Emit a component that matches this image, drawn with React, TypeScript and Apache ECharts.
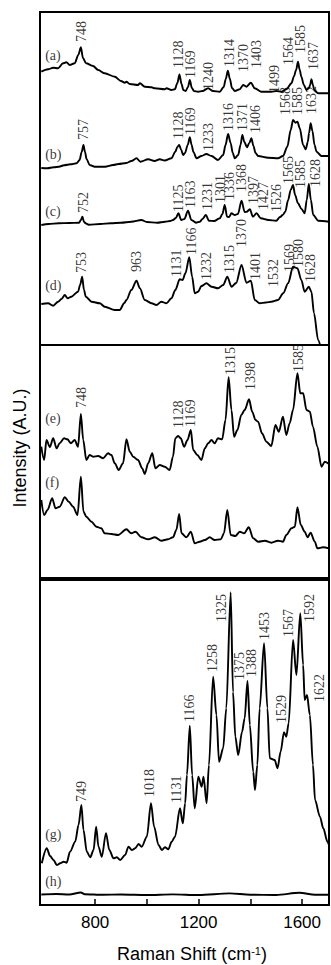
import React, { useEffect, useRef } from 'react';
import * as echarts from 'echarts';

// Raman shift axis range (cm-1)
const X_MIN = 587;
const X_MAX = 1704;
const TICK_VALUES = [800, 1000, 1200, 1400, 1600];
const TICK_LABELS = [800, 1200, 1600];

// Panel heights in arbitrary intensity units
const P1_MAX = 333;
const P2_MAX = 233;
const P3_MAX = 325;

// ---- Panel 1 spectra: [Raman shift, intensity] ----
const specA = [
  [592, 273.3], [618, 275.7], [638, 277.3], [657, 276.7], [676, 281.7], [689, 282.7], [702, 280], [721, 281.7],
  [735, 290], [745, 297.7], [753, 287], [765, 281.7], [792, 279], [812, 275], [837, 271.7], [876, 268.3],
  [900, 264], [915, 262.3], [921, 263.3], [934, 261], [966, 260], [973, 261.7], [992, 258.3], [1018, 257.7],
  [1031, 256.7], [1069, 255.7], [1076, 256.7], [1095, 255], [1108, 255.7], [1118, 262], [1126, 270.5],
  [1134, 261], [1141, 255], [1150, 254], [1159, 258], [1166, 265], [1174, 257], [1182, 254], [1198, 253.3],
  [1215, 254], [1237, 256.7], [1256, 254], [1282, 253.3], [1297, 258], [1305, 266], [1313, 274.3],
  [1321, 266], [1329, 257], [1340, 254], [1359, 255.7], [1372, 260], [1385, 258.3], [1402, 262.3],
  [1417, 256.7], [1443, 253.3], [1481, 253.3], [1501, 254], [1520, 253.3], [1539, 255.7], [1559, 261.7],
  [1568, 268.3], [1577, 275], [1584, 283.3], [1591, 275], [1597, 268.3], [1607, 260], [1617, 255],
  [1626, 256.7], [1631, 260], [1636, 265.7], [1642, 260], [1647, 255], [1662, 251.7], [1704, 251.7],
];

const specB = [
  [592, 177], [615, 176.7], [640, 177.7], [660, 178.3], [680, 179.7], [705, 180.7], [728, 181.7], [740, 185],
  [748, 193], [755, 200], [761, 193], [767, 186], [779, 180], [799, 178.3], [838, 178.3], [870, 180],
  [890, 181], [921, 182], [940, 184], [960, 186.7], [975, 183.3], [1005, 185.7], [1030, 184], [1050, 185.7],
  [1069, 184.5], [1095, 186.7], [1110, 193.3], [1118, 198], [1125, 200], [1133, 195], [1140, 190],
  [1147, 191.7], [1158, 200], [1166, 207.7], [1173, 200], [1180, 193], [1192, 186.7], [1211, 189],
  [1230, 191], [1250, 189], [1275, 185], [1295, 190], [1304, 200], [1314, 211], [1324, 201.7],
  [1332, 192], [1340, 186.7], [1353, 190], [1362, 200], [1369, 210], [1377, 203], [1387, 197.7],
  [1396, 202], [1404, 206.7], [1412, 199], [1420, 192], [1430, 189], [1469, 187.3], [1507, 186.7],
  [1526, 189], [1543, 198.3], [1556, 215], [1565, 225], [1574, 222.3], [1582, 223.3], [1591, 216.7],
  [1604, 200], [1614, 195.7], [1622, 203], [1627, 212], [1633, 221.7], [1640, 214], [1648, 200],
  [1656, 193.3], [1675, 189], [1704, 189],
];

const specC = [
  [592, 120], [620, 121], [660, 121.7], [700, 122], [738, 122.3], [745, 125], [751, 128.3], [757, 123],
  [765, 121.5], [775, 120.3], [820, 121], [860, 121.7], [900, 122.3], [940, 123.3], [979, 125], [1000, 123],
  [1040, 122.3], [1070, 123.3], [1090, 124], [1101, 125], [1112, 127], [1122, 131.7], [1133, 125],
  [1145, 126], [1159, 134.3], [1172, 125], [1190, 122.3], [1205, 123.3], [1215, 126], [1228, 130],
  [1240, 124.3], [1260, 124], [1282, 126.7], [1292, 131], [1301, 140], [1310, 128.3], [1318, 128],
  [1327, 131.7], [1340, 130], [1352, 131], [1366, 144.3], [1378, 133], [1386, 133.3], [1398, 135.7],
  [1410, 128.3], [1424, 131.7], [1440, 126.7], [1470, 125], [1500, 124.3], [1515, 128], [1525, 130],
  [1535, 133.3], [1546, 145], [1556, 155], [1565, 160], [1573, 150], [1584, 141.7], [1598, 136],
  [1610, 131.7], [1618, 145], [1626, 161], [1634, 145], [1643, 130], [1662, 124.3], [1704, 123.3],
];

const specD = [
  [592, 41], [618, 41.7], [638, 39.3], [657, 43.3], [670, 46], [683, 50], [694, 46.7], [708, 48.3],
  [734, 53.3], [742, 60], [750, 68.3], [757, 55], [764, 48.3], [786, 43.3], [818, 41.7], [837, 38.3],
  [876, 35], [895, 35], [913, 42], [921, 45], [940, 55], [960, 64.3], [973, 56.7], [992, 45], [1018, 41.7],
  [1037, 40], [1056, 43.3], [1076, 41.7], [1095, 46.7], [1110, 55], [1127, 65.7], [1138, 65],
  [1149, 71.7], [1164, 87.7], [1175, 68.3], [1185, 51.7], [1198, 53.3], [1211, 59], [1230, 61.7],
  [1250, 58.3], [1275, 56.7], [1295, 60], [1311, 68.3], [1327, 58.3], [1345, 62], [1366, 80],
  [1385, 62.3], [1402, 64.3], [1417, 45], [1436, 41.7], [1460, 42.5], [1481, 43.3], [1507, 45],
  [1527, 51.7], [1546, 61.7], [1565, 78.3], [1582, 76.7], [1597, 65], [1610, 53.3], [1626, 58.3],
  [1636, 53.3], [1646, 31.7], [1662, 5], [1672, -3],
];

// ---- Panel 2 spectra ----
const specE = [
  [592, 131.3], [603, 118], [612, 138], [625, 131], [638, 139.7], [651, 129.7], [663, 134.7], [680, 139.7],
  [693, 138.7], [706, 134.7], [721, 138], [734, 131.3], [745, 164], [754, 138], [766, 118], [779, 123],
  [792, 121.3], [812, 122], [831, 119.7], [850, 124.7], [863, 123], [876, 114.7], [891, 108], [908, 114.7],
  [921, 138.7], [934, 126.3], [947, 121.3], [966, 118], [982, 109.7], [992, 104], [1005, 114.7],
  [1021, 124.7], [1033, 109.7], [1050, 113], [1069, 111.3], [1088, 108], [1101, 121.3], [1110, 139.7],
  [1121, 142], [1131, 139.7], [1144, 131.3], [1157, 138], [1170, 148], [1179, 128], [1195, 123],
  [1211, 118], [1224, 129.7], [1237, 134.7], [1250, 138], [1262, 134.7], [1275, 139.7], [1291, 138.7],
  [1304, 158], [1316, 200.7], [1327, 168], [1337, 141.3], [1350, 148], [1365, 163], [1378, 168],
  [1395, 178.7], [1407, 166.3], [1420, 158], [1430, 156.3], [1445, 144.7], [1462, 136.3], [1481, 132],
  [1497, 153], [1510, 146.3], [1526, 161.3], [1539, 143], [1552, 154.7], [1565, 168], [1582, 204.7],
  [1593, 184.7], [1604, 184.7], [1617, 168], [1630, 166.3], [1642, 151.3], [1659, 131.3], [1675, 111.3],
  [1688, 116.3], [1704, 114],
];

const specF = [
  [592, 78], [603, 63], [616, 68], [634, 79.7], [647, 69.7], [663, 71.3], [683, 80.7], [698, 76.3],
  [715, 71.3], [732, 63], [745, 101.3], [755, 66.3], [766, 61.3], [786, 56.3], [805, 51.3], [824, 49.7],
  [837, 44.7], [863, 44], [889, 43], [921, 48.7], [940, 44.7], [956, 46.3], [979, 40.7], [1005, 38.7],
  [1031, 40.7], [1056, 37.3], [1082, 38.7], [1101, 40.7], [1114, 48], [1125, 64], [1134, 44.7],
  [1153, 40.7], [1170, 46.3], [1185, 34.7], [1204, 36.3], [1224, 38], [1243, 40.7], [1262, 38],
  [1286, 38.7], [1298, 44.7], [1311, 68], [1324, 43], [1342, 42], [1359, 46.3], [1376, 44.7],
  [1394, 50.7], [1411, 39.7], [1430, 36.3], [1456, 37.3], [1481, 35.3], [1507, 37.3], [1526, 36.3],
  [1539, 43], [1559, 49.7], [1572, 51.3], [1582, 70.7], [1595, 53], [1610, 46.3], [1621, 40.7],
  [1633, 45.3], [1649, 36.3], [1659, 29.7], [1681, 30.7], [1704, 29.7],
];

// ---- Panel 3 spectra ----
const specG = [
  [594, 41.7], [613, 56.7], [626, 49], [639, 45], [652, 40], [665, 41.7], [678, 43.3], [690, 42.3],
  [703, 53.3], [723, 63.3], [736, 80], [747, 100], [755, 75], [768, 53.3], [781, 47.7], [794, 55],
  [804, 78.3], [813, 58.3], [826, 48.3], [842, 71.7], [855, 55], [871, 46.7], [884, 47.7], [897, 45],
  [916, 50], [929, 58.3], [942, 55], [955, 56.7], [968, 61], [980, 58.3], [1000, 68.3], [1016, 101.7],
  [1028, 78.3], [1045, 60], [1058, 55], [1070, 57.7], [1083, 55.7], [1096, 63.3], [1109, 68.3],
  [1128, 96.7], [1139, 81.7], [1148, 101.7], [1155, 130], [1166, 179.3], [1175, 130], [1185, 96.7],
  [1199, 128.3], [1212, 118.3], [1219, 128.3], [1231, 101.7], [1240, 140], [1256, 228.3], [1269, 190],
  [1279, 143.3], [1295, 156.7], [1307, 196.7], [1324, 312.7], [1333, 213], [1342, 168.3], [1353, 150],
  [1368, 173.3], [1378, 186.7], [1389, 224], [1398, 180], [1411, 133.3], [1418, 115], [1427, 140],
  [1436, 196.7], [1453, 261.7], [1466, 196.7], [1475, 146.7], [1494, 145], [1505, 136.7], [1517, 153.3],
  [1530, 172.7], [1539, 168.3], [1548, 181.7], [1565, 265], [1578, 230], [1593, 291.7], [1604, 240],
  [1610, 205], [1619, 210], [1630, 190], [1642, 140], [1650, 105], [1669, 88.3], [1682, 76.7],
  [1698, 63.3], [1704, 60],
];

const specH = [
  [592, 10.5], [650, 11], [700, 10.5], [745, 12.5], [760, 10.8], [830, 10.2], [900, 10.5], [1000, 10],
  [1100, 10.6], [1200, 10], [1320, 11.6], [1400, 10.3], [1500, 10], [1590, 12.2], [1650, 10.3], [1704, 10.3],
];

// ---- Peak labels: [label x position, label bottom, text] ----
const labelsP1 = [
  // (a)
  [748.6, 303, '748'], [1122, 277, '1128'], [1167, 267, '1169'], [1238, 255, '1240'], [1319, 278, '1314'],
  [1373, 273, '1370'], [1422, 277, '1403'], [1492, 252, '1499'], [1547, 280, '1564'], [1592, 292, '1585'],
  [1644, 275, '1637'],
  // (b)
  [755, 205, '757'], [1121, 206, '1128'], [1167, 210, '1169'], [1237, 194, '1233'], [1316, 214, '1316'],
  [1371, 214, '1371'], [1418, 212, '1406'], [1536, 230, '1568'], [1583, 230, '1585'], [1637, 231, '1632'],
  // (c)
  [755, 132, '752'], [1122, 133, '1125'], [1167, 137, '1163'], [1234, 135, '1231'], [1283, 142, '1301'],
  [1319, 145, '1336'], [1367, 153, '1368'], [1412, 141, '1397'], [1450, 135, '1427'], [1502, 133, '1526'],
  [1547, 161, '1565'], [1592, 157, '1585'], [1650, 158, '1628'],
  // (d)
  [748.6, 72, '753'], [961, 73, '963'], [1116, 68, '1131'], [1174, 90, '1166'], [1232, 65, '1232'],
  [1319, 72, '1315'], [1367, 98, '1370'], [1418, 65, '1401'], [1489, 58, '1532'], [1551, 73, '1569'],
  [1586, 78, '1580'], [1634, 63, '1628'],
];

const labelsP2 = [
  [748.6, 170, '748'], [1122, 150, '1128'], [1167, 151, '1169'], [1322, 203, '1315'], [1399, 188, '1398'],
  [1586, 206, '1585'],
];

const labelsP3 = [
  [748.6, 103, '749'], [1010, 108, '1018'], [1116, 102, '1131'], [1166, 183, '1166'], [1252, 233, '1258'],
  [1288, 283, '1325'], [1359, 225, '1375'], [1404, 228, '1388'], [1456, 265, '1453'], [1520, 182, '1529'],
  [1548, 268, '1567'], [1630, 283, '1592'], [1666, 203, '1622'],
];

// ---- Trace tags: [x, centre y, text] ----
const tagsP1 = [[607, 290, '(a)'], [607, 191, '(b)'], [607, 134, '(c)'], [607, 60, '(d)']];
const tagsP2 = [[607, 160, '(e)'], [607, 96, '(f)']];
const tagsP3 = [[607, 71, '(g)'], [607, 24, '(h)']];

const SERIF = '"Liberation Serif", "Times New Roman", serif';
const SANS = '"Liberation Sans", Arial, sans-serif';

function lineSeries(data: number[][], idx: number) {
  return {
    type: 'line',
    xAxisIndex: idx,
    yAxisIndex: idx,
    data,
    symbol: 'none',
    smooth: 0.3,
    smoothMonotone: 'x',
    clip: true,
    lineStyle: { color: '#000', width: 1.9 },
    silent: true,
  };
}

function peakLabelSeries(labels: any[], idx: number) {
  return {
    type: 'scatter',
    xAxisIndex: idx,
    yAxisIndex: idx,
    symbolSize: 1,
    itemStyle: { color: 'rgba(0,0,0,0)' },
    silent: true,
    clip: false,
    data: labels.map((l) => ({ value: [l[0], l[1]], name: l[2] })),
    label: {
      show: true,
      formatter: '{b}',
      position: 'inside',
      rotate: 90,
      align: 'left',
      verticalAlign: 'middle',
      fontFamily: SERIF,
      fontSize: 14,
      color: '#000',
    },
  };
}

function tagSeries(tags: any[], idx: number) {
  return {
    type: 'scatter',
    xAxisIndex: idx,
    yAxisIndex: idx,
    symbolSize: 1,
    itemStyle: { color: 'rgba(0,0,0,0)' },
    silent: true,
    clip: false,
    data: tags.map((l) => ({ value: [l[0], l[1]], name: l[2] })),
    label: {
      show: true,
      formatter: '{b}',
      position: 'inside',
      align: 'left',
      verticalAlign: 'middle',
      fontFamily: SERIF,
      fontSize: 14,
      color: '#000',
    },
  };
}

const gridBase = { left: 40, right: 2, show: true, borderColor: '#000', borderWidth: 2, backgroundColor: 'transparent' };

function hiddenX(idx: number) {
  return { type: 'value', gridIndex: idx, min: X_MIN, max: X_MAX, show: false };
}

function hiddenY(idx: number, max: number) {
  return { type: 'value', gridIndex: idx, min: 0, max, show: false };
}

export default function App() {
  const ref = useRef<HTMLDivElement>(null);
  useEffect(() => {
    if (!ref.current) return;
    const chart = echarts.init(ref.current, null, { renderer: 'svg' });
    const option: any = {
      animation: false,
      backgroundColor: '#fff',
      grid: [
        { ...gridBase, top: 12, height: 333 },
        { ...gridBase, top: 345, height: 233 },
        { ...gridBase, top: 580, height: 325 },
      ],
      xAxis: [
        hiddenX(0),
        hiddenX(1),
        {
          type: 'value',
          gridIndex: 2,
          min: X_MIN,
          max: X_MAX,
          axisLine: { show: false },
          splitLine: { show: false },
          axisTick: {
            show: true,
            inside: true,
            length: 6,
            customValues: TICK_VALUES,
            lineStyle: { color: '#000', width: 1.5 },
          },
          axisLabel: {
            show: true,
            customValues: TICK_LABELS,
            formatter: (v: number) => String(v),
            fontFamily: SANS,
            fontSize: 17,
            color: '#000',
            margin: 9,
          },
        },
      ],
      yAxis: [hiddenY(0, P1_MAX), hiddenY(1, P2_MAX), hiddenY(2, P3_MAX)],
      series: [
        lineSeries(specA, 0),
        lineSeries(specB, 0),
        lineSeries(specC, 0),
        lineSeries(specD, 0),
        lineSeries(specE, 1),
        lineSeries(specF, 1),
        lineSeries(specG, 2),
        lineSeries(specH, 2),
        peakLabelSeries(labelsP1, 0),
        peakLabelSeries(labelsP2, 1),
        peakLabelSeries(labelsP3, 2),
        tagSeries(tagsP1, 0),
        tagSeries(tagsP2, 1),
        tagSeries(tagsP3, 2),
      ],
      graphic: [
        {
          type: 'text',
          x: 20,
          y: 448,
          rotation: Math.PI / 2,
          style: {
            text: 'Intensity (A.U.)',
            font: '18px ' + SANS,
            fill: '#000',
            align: 'center',
            verticalAlign: 'middle',
            textAlign: 'center',
            textVerticalAlign: 'middle',
          },
        },
        {
          type: 'text',
          x: 192,
          y: 954,
          style: {
            text: '{a|Raman Shift (cm}{s|-1}{a|)}',
            fill: '#000',
            align: 'center',
            verticalAlign: 'middle',
            textAlign: 'center',
            textVerticalAlign: 'middle',
            rich: {
              a: { fontSize: 18, fontFamily: SANS, color: '#000' },
              s: { fontSize: 11, fontFamily: SANS, color: '#000', verticalAlign: 'top' },
            },
          },
        },
      ],
    };
    chart.setOption(option);
    return () => chart.dispose();
  }, []);
  return <div ref={ref} style={{ position: 'fixed', left: 0, top: 0, width: 331, height: 965 }} />;
}
